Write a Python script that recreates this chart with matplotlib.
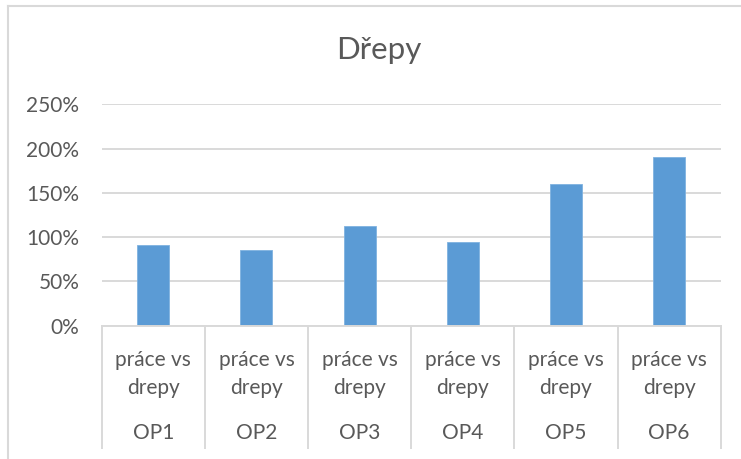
import matplotlib.pyplot as plt
import matplotlib.transforms as mtransforms
from matplotlib.lines import Line2D
from matplotlib.ticker import FuncFormatter

plt.rcParams["font.family"] = ["Lato", "DejaVu Sans"]

# data
groups = ["OP1", "OP2", "OP3", "OP4", "OP5", "OP6"]
sub_label = "práce vs\ndrepy"
values = [0.91, 0.86, 1.13, 0.95, 1.60, 1.90]
yticks = [0, 0.5, 1.0, 1.5, 2.0, 2.5]

text_col = "#595959"
grid_col = "#D9D9D9"
bar_col = "#5B9BD5"

W, H = 741, 459
fig = plt.figure(figsize=(W / 100, H / 100), dpi=100)
ax = fig.add_axes([101.7 / W, 1 - 325.7 / H, (720.7 - 101.7) / W, (325.7 - 104.3) / H])

x = list(range(len(groups)))
ax.bar(x, values, width=0.31, color=bar_col, edgecolor="#7FB2E0", linewidth=0.6, zorder=2)

ax.set_xlim(-0.5, len(groups) - 0.5)
ax.set_ylim(0, 2.5)
ax.set_yticks(yticks)
ax.yaxis.set_major_formatter(FuncFormatter(lambda v, p: f"{v * 100:.0f}%"))
ax.tick_params(axis="y", length=0, pad=16, labelsize=15, labelcolor=text_col)
ax.set_xticks([])
ax.grid(axis="y", color=grid_col, linewidth=1.4, zorder=0)
for s in ["top", "right", "left"]:
    ax.spines[s].set_visible(False)
ax.spines["bottom"].set_color(grid_col)
ax.spines["bottom"].set_linewidth(1.4)
ax.spines["bottom"].set_zorder(3)

# multi-level category axis
trans = mtransforms.blended_transform_factory(ax.transData, fig.transFigure)
y0 = 1 - 325.7 / H
y_end = 1 - 447.7 / H
for b in [i - 0.5 for i in range(len(groups) + 1)]:
    ax.add_line(Line2D([b, b], [y0, y_end], transform=trans, color=grid_col,
                       linewidth=1.4, clip_on=False))
for i, g in enumerate(groups):
    ax.text(i, 1 - 365.7 / H, "práce vs", transform=trans, ha="center", va="baseline",
            fontsize=15, color=text_col)
    ax.text(i, 1 - 394 / H, "drepy", transform=trans, ha="center", va="baseline",
            fontsize=15, color=text_col)
    ax.text(i, 1 - 439.3 / H, g, transform=trans, ha="center", va="baseline",
            fontsize=15, color=text_col)

# title
fig.text(379 / W, 1 - 59.3 / H, "Dřepy", ha="center", va="baseline",
         fontsize=22.5, color=text_col)

# chart area border (top and left visible)
fig.add_artist(Line2D([8 / W, 1], [1 - 6 / H, 1 - 6 / H], transform=fig.transFigure,
                      color=grid_col, linewidth=1.5))
fig.add_artist(Line2D([8 / W, 8 / W], [0, 1 - 6 / H], transform=fig.transFigure,
                      color=grid_col, linewidth=1.5))

plt.savefig("out.png", dpi=100)
